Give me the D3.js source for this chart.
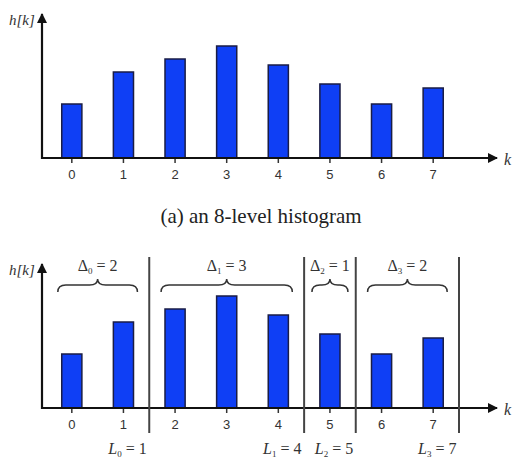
<!DOCTYPE html>
<html>
<head>
<meta charset="utf-8">
<script src="https://cdn.jsdelivr.net/npm/d3@7"></script>
</head>
<body style="margin:0">
<svg id="chart" width="518" height="462"></svg>
<script>
// histogram levels and their counts
var levels = [0, 1, 2, 3, 4, 5, 6, 7];
var counts = [54, 86, 99, 112, 93, 74, 54, 70];
// merged groups (bottom panel)
var groupDelta = [2, 3, 1, 2];
var groupL = [1, 4, 5, 7];

var svg = d3.select('#chart');

// caption first, Times via presentation attribute
svg.append('text')
  .attr('x', 261).attr('y', 223)
  .attr('text-anchor', 'middle')
  .attr('font-family', 'Times New Roman')
  .attr('font-size', 21)
  .attr('fill', '#222')
  .text('(a) an 8-level histogram');

svg.append('defs').append('marker')
  .attr('id', 'arrow')
  .attr('viewBox', '0 0 10 10')
  .attr('refX', 9).attr('refY', 5)
  .attr('markerWidth', 10).attr('markerHeight', 10)
  .attr('markerUnits', 'userSpaceOnUse')
  .attr('orient', 'auto')
  .append('path')
  .attr('d', 'M0,0 L10,5 L0,10 z')
  .attr('fill', '#111');

var x = d3.scaleBand()
  .domain(levels)
  .range([46, 459])
  .paddingInner(0.61)
  .paddingOuter(0.305);

var step = x.step();
function cx(k) { return x(k) + x.bandwidth() / 2; }

function serifText(sel, size) {
  return sel.attr('font-family', 'Times New Roman')
    .attr('font-size', size)
    .attr('fill', '#333');
}

function drawPanel(dy) {
  var g = svg.append('g').attr('transform', 'translate(0,' + dy + ')');
  var y = d3.scaleLinear().domain([0, 144]).range([158, 14]);

  // bars
  g.selectAll('rect.bar')
    .data(levels)
    .enter().append('rect')
    .attr('class', 'bar')
    .attr('x', function(d) { return x(d); })
    .attr('width', x.bandwidth())
    .attr('y', function(d, i) { return y(counts[i]); })
    .attr('height', function(d, i) { return y(0) - y(counts[i]); })
    .attr('fill', '#0f3ff5')
    .attr('stroke', '#1a1d45')
    .attr('stroke-width', 1.5);

  // x ticks + labels
  var ax = g.append('g')
    .attr('transform', 'translate(0,' + y(0) + ')')
    .call(d3.axisBottom(x).tickSize(5).tickPadding(7));
  ax.attr('font-family', 'Liberation Sans').attr('font-size', 13);
  ax.select('.domain').remove();
  ax.selectAll('.tick line').attr('stroke', '#333').attr('stroke-width', 1.5);
  ax.selectAll('.tick text').attr('fill', '#333');

  // axes with arrows
  g.append('line')
    .attr('x1', 41).attr('x2', 497)
    .attr('y1', y(0)).attr('y2', y(0))
    .attr('stroke', '#111').attr('stroke-width', 2.2)
    .attr('marker-end', 'url(#arrow)');
  g.append('line')
    .attr('x1', 42).attr('x2', 42)
    .attr('y1', y(0) + 1).attr('y2', y(144))
    .attr('stroke', '#111').attr('stroke-width', 2.2)
    .attr('marker-end', 'url(#arrow)');

  serifText(g.append('text'), 15)
    .attr('x', 9).attr('y', 25)
    .attr('font-style', 'italic')
    .text('h[k]');
  serifText(g.append('text'), 16)
    .attr('x', 504).attr('y', 165)
    .attr('font-style', 'italic')
    .text('k');
  return { g: g, y: y };
}

// (a) top panel
drawPanel(0);

// bottom panel with groups
var p2 = drawPanel(250);
var g2 = p2.g;

var groups = groupL.map(function(L, i) {
  return { i: i, delta: groupDelta[i], L: L, start: L - groupDelta[i] + 1 };
});

// separators after each group
g2.selectAll('line.sep')
  .data(groups)
  .enter().append('line')
  .attr('class', 'sep')
  .attr('x1', function(d) { return cx(d.L) + step / 2; })
  .attr('x2', function(d) { return cx(d.L) + step / 2; })
  .attr('y1', 7).attr('y2', 183)
  .attr('stroke', '#444').attr('stroke-width', 2);

function brace(x0, x1, yb, yf, yt) {
  var xm = (x0 + x1) / 2, r = 8;
  return 'M' + x0 + ',' + yb +
    ' Q' + x0 + ',' + yf + ' ' + (x0 + r) + ',' + yf +
    ' L' + (xm - r) + ',' + yf +
    ' Q' + xm + ',' + yf + ' ' + xm + ',' + yt +
    ' Q' + xm + ',' + yf + ' ' + (xm + r) + ',' + yf +
    ' L' + (x1 - r) + ',' + yf +
    ' Q' + x1 + ',' + yf + ' ' + x1 + ',' + yb;
}

g2.selectAll('path.brace')
  .data(groups)
  .enter().append('path')
  .attr('class', 'brace')
  .attr('d', function(d) {
    var w = d.delta === 1 ? 18 : 14;
    return brace(cx(d.start) - w, cx(d.L) + w, 42, 35, 29);
  })
  .attr('fill', 'none')
  .attr('stroke', '#333')
  .attr('stroke-width', 1.5);

var dl = serifText(g2.selectAll('text.delta')
  .data(groups)
  .enter().append('text'), 16)
  .attr('class', 'delta')
  .attr('x', function(d) { return (cx(d.start) + cx(d.L)) / 2; })
  .attr('y', 21)
  .attr('text-anchor', 'middle');
dl.append('tspan').text('\u0394');
dl.append('tspan').attr('dy', 3).attr('font-size', 9).text(function(d) { return d.i; });
dl.append('tspan').attr('dy', -3).text(function(d) { return ' = ' + d.delta; });

var ll = serifText(g2.selectAll('text.lab')
  .data(groups)
  .enter().append('text'), 16)
  .attr('class', 'lab')
  .attr('x', function(d) { return cx(d.L) + 4; })
  .attr('y', 204)
  .attr('text-anchor', 'middle');
ll.append('tspan').attr('font-style', 'italic').text('L');
ll.append('tspan').attr('dy', 3).attr('font-size', 9).text(function(d) { return d.i; });
ll.append('tspan').attr('dy', -3).text(function(d) { return ' = ' + d.L; });
</script>
</body>
</html>
